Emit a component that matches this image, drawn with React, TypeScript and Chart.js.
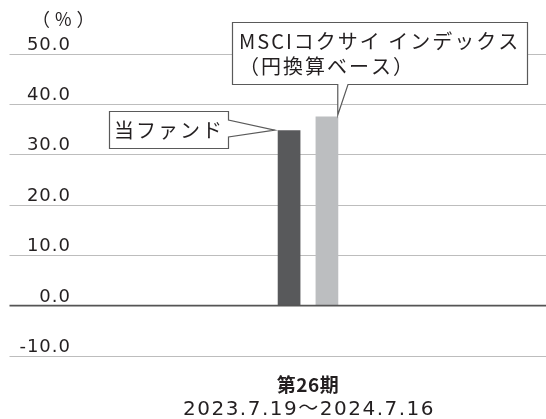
import React, { useEffect, useRef } from "react";
import { Chart, registerables } from "chart.js";

Chart.register(...registerables);

const categories = ["第26期"];
const periodLabel = "2023.7.19～2024.7.16";
const fundValues = [34.8];
const indexValues = [37.5];
const fundName = "当ファンド";
const indexNameLines = ["MSCIコクサイ インデックス", "（円換算ベース）"];
const yTicks = [-10, 0, 10, 20, 30, 40, 50];
const unitLabel = "（%）";

const NUM_FONT = "'DejaVu Sans', 'Noto Sans CJK JP', sans-serif";
const JP_FONT = "'Noto Sans CJK JP', 'DejaVu Sans', sans-serif";

const decorPlugin = {
  id: "decor",
  beforeDatasetsDraw(chart: any) {
    const ctx = chart.ctx;
    const y = chart.scales.y;
    const right = chart.width;
    ctx.save();
    yTicks.forEach((v) => {
      const py = Math.round(y.getPixelForValue(v)) + 0.5;
      if (v !== 0) {
        ctx.strokeStyle = "#bdbdbd";
        ctx.lineWidth = 1.2;
        ctx.beginPath();
        ctx.moveTo(9.5, py);
        ctx.lineTo(right, py);
        ctx.stroke();
      }
      ctx.fillStyle = "#231f20";
      ctx.font = "18px " + NUM_FONT;
      (ctx as any).letterSpacing = "1px";
      ctx.textAlign = "right";
      ctx.textBaseline = "alphabetic";
      ctx.fillText(v.toFixed(1), 71, py - 4.5);
    });
    (ctx as any).letterSpacing = "5px";
    ctx.font = "18px " + JP_FONT;
    ctx.textAlign = "left";
    ctx.textBaseline = "middle";
    ctx.fillText(unitLabel, 32, 19);
    ctx.restore();
  },
  afterDatasetsDraw(chart: any) {
    const ctx = chart.ctx;
    const y = chart.scales.y;
    const x = chart.scales.x;
    const py = y.getPixelForValue(0);
    ctx.save();
    ctx.strokeStyle = "#555555";
    ctx.lineWidth = 1.6;
    ctx.beginPath();
    ctx.moveTo(9.5, py);
    ctx.lineTo(chart.width, py);
    ctx.stroke();

    // category labels
    const cx = x.getPixelForValue(0);
    ctx.fillStyle = "#231f20";
    ctx.textAlign = "center";
    ctx.textBaseline = "alphabetic";
    ctx.font = "bold 19px " + JP_FONT;
    (ctx as any).letterSpacing = "0.5px";
    ctx.fillText(categories[0], cx, 392);
    ctx.font = "20px " + NUM_FONT;
    (ctx as any).letterSpacing = "1.5px";
    ctx.fillText(periodLabel, cx + 1, 415);
    ctx.restore();
  },
  afterDraw(chart: any) {
    const ctx = chart.ctx;
    const b0 = chart.getDatasetMeta(0).data[0];
    const b1 = chart.getDatasetMeta(1).data[0];
    ctx.save();
    ctx.strokeStyle = "#5a5a5a";
    ctx.lineWidth = 1.2;
    ctx.fillStyle = "#ffffff";

    // callout 1
    const l0 = b0.x - b0.width / 2;
    const tip0x = l0 - 3;
    const tip0y = b0.y;
    ctx.beginPath();
    ctx.moveTo(109.5, 111.5);
    ctx.lineTo(228.5, 111.5);
    ctx.lineTo(228.5, 120);
    ctx.lineTo(tip0x, tip0y);
    ctx.lineTo(228.5, 137);
    ctx.lineTo(228.5, 148.5);
    ctx.lineTo(109.5, 148.5);
    ctx.closePath();
    ctx.fill();
    ctx.stroke();

    // callout 2
    const r1 = b1.x + b1.width / 2;
    const tip1x = r1 - 0.5;
    const tip1y = b1.y - 1.5;
    ctx.beginPath();
    ctx.moveTo(232.5, 22.5);
    ctx.lineTo(527.5, 22.5);
    ctx.lineTo(527.5, 84.5);
    ctx.lineTo(348, 84.5);
    ctx.lineTo(tip1x, tip1y);
    ctx.lineTo(tip1x, 84.5);
    ctx.lineTo(232.5, 84.5);
    ctx.closePath();
    ctx.fill();
    ctx.stroke();

    ctx.fillStyle = "#231f20";
    ctx.textAlign = "left";
    ctx.textBaseline = "middle";
    ctx.font = "20px " + JP_FONT;
    (ctx as any).letterSpacing = "2px";
    ctx.fillText(fundName, 114, 130);
    ctx.fillText(indexNameLines[0], 239, 41);
    ctx.fillText(indexNameLines[1], 239, 66);
    ctx.restore();
  },
};

export default function App() {
  const ref = useRef<HTMLCanvasElement>(null);
  useEffect(() => {
    if (!ref.current) return;
    const chart = new Chart(ref.current, {
      type: "bar",
      data: {
        labels: categories,
        datasets: [
          {
            label: fundName,
            data: fundValues,
            backgroundColor: "#58595b",
            barPercentage: 0.6,
            categoryPercentage: 0.159,
          },
          {
            label: indexNameLines.join(""),
            data: indexValues,
            backgroundColor: "#bcbec0",
            barPercentage: 0.6,
            categoryPercentage: 0.159,
          },
        ],
      },
      options: {
        responsive: false,
        animation: false,
        layout: { padding: { left: 70, right: 0, top: 53.5, bottom: 63 } },
        plugins: { legend: { display: false }, tooltip: { enabled: false } },
        scales: {
          x: { display: false, offset: true },
          y: { display: false, min: -10, max: 50, ticks: { stepSize: 10 } },
        },
      },
      plugins: [decorPlugin],
    });
    return () => chart.destroy();
  }, []);
  return (
    <div style={{ position: "fixed", left: 0, top: 0, width: 546, height: 419, background: "#fff" }}>
      <canvas ref={ref} width={546} height={419} />
    </div>
  );
}
